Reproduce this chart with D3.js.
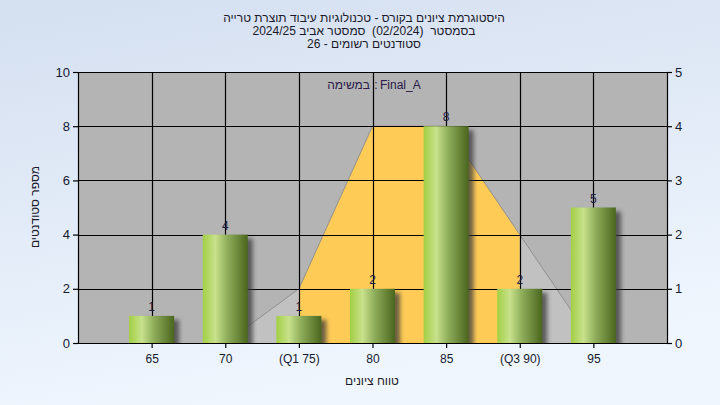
<!DOCTYPE html>
<html>
<head>
<meta charset="utf-8">
<script src="https://d3js.org/d3.v7.min.js"></script>
<style>
  body { margin: 0; }
  svg { display: block; font-family: "Liberation Sans", Arial, "DejaVu Sans", sans-serif; }
</style>
</head>
<body>
<div id="chart"></div>
<script>
// grade bins and counts
var grades = [65, 70, 75, 80, 85, 90, 95];
var tickLabels = ["65", "70", "(Q1 75)", "80", "85", "(Q3 90)", "95"];
var counts = [1, 4, 1, 2, 8, 2, 5];
// distribution curve, read on the right axis (0-5)
var curveX = [70, 75, 80, 85, 90, 95];
var curveY = [0, 1, 4, 4, 2, 0];
var q1 = 75, q3 = 90;
var leftTicks = [0, 2, 4, 6, 8, 10];
var rightTicks = [0, 1, 2, 3, 4, 5];
var titleLines = [
  "היסטוגרמת ציונים בקורס - טכנולוגיות עיבוד תוצרת טרייה",
  "בסמסטר  (02/2024)  סמסטר אביב 2024/25",
  "סטודנטים רשומים - 26"
];

var width = 720, height = 405;
var margin = {top: 72, right: 53, bottom: 62, left: 78};

var svg = d3.select("#chart").append("svg")
    .attr("width", width)
    .attr("height", height);

var defs = svg.append("defs");

var bg = defs.append("linearGradient").attr("id", "bg")
    .attr("x1", 0).attr("y1", 0).attr("x2", 0.3).attr("y2", 1);
bg.append("stop").attr("offset", "0%").attr("stop-color", "#d4dff0");
bg.append("stop").attr("offset", "100%").attr("stop-color", "#eff6fe");

var bar = defs.append("linearGradient").attr("id", "bar")
    .attr("x1", 0).attr("y1", 0).attr("x2", 1).attr("y2", 0);
bar.append("stop").attr("offset", "0%").attr("stop-color", "#a2cf44");
bar.append("stop").attr("offset", "28%").attr("stop-color", "#c8e18c");
bar.append("stop").attr("offset", "55%").attr("stop-color", "#8ead5a");
bar.append("stop").attr("offset", "100%").attr("stop-color", "#4a661e");

var blur = defs.append("filter").attr("id", "shadow")
    .attr("x", "-20%").attr("y", "-20%").attr("width", "150%").attr("height", "150%");
blur.append("feGaussianBlur").attr("stdDeviation", 2);

var clip = defs.append("clipPath").attr("id", "plotclip");

svg.append("rect").attr("width", width).attr("height", height).attr("fill", "url(#bg)");

var x = d3.scaleLinear().domain([60, 100]).range([margin.left, width - margin.right]);
var y = d3.scaleLinear().domain([0, 10]).range([height - margin.bottom, margin.top]);
var y2 = d3.scaleLinear().domain([0, 5]).range([height - margin.bottom, margin.top]);

clip.append("rect")
    .attr("x", x(60)).attr("y", y(10))
    .attr("width", x(100) - x(60)).attr("height", y(0) - y(10));

// plot background
svg.append("rect")
    .attr("x", x(60)).attr("y", y(10))
    .attr("width", x(100) - x(60)).attr("height", y(0) - y(10))
    .attr("fill", "#b4b4b4");

var plot = svg.append("g").attr("clip-path", "url(#plotclip)");

var curve = curveX.map(function(d, i) { return [d, curveY[i]]; });

var area = d3.area()
    .x(function(d) { return x(d[0]); })
    .y0(y2(0))
    .y1(function(d) { return y2(d[1]); });

plot.append("path")
    .datum(curve)
    .attr("d", area)
    .attr("fill", "#c1c1c1");

// inter-quartile part
var iqr = defs.append("clipPath").attr("id", "iqr");
iqr.append("rect")
    .attr("x", x(q1)).attr("y", y(10))
    .attr("width", x(q3) - x(q1)).attr("height", y(0) - y(10));

plot.append("path")
    .datum(curve)
    .attr("d", area)
    .attr("clip-path", "url(#iqr)")
    .attr("fill", "#fecb57");

plot.append("path")
    .datum(curve)
    .attr("d", d3.line().x(function(d) { return x(d[0]); }).y(function(d) { return y2(d[1]); }))
    .attr("fill", "none")
    .attr("stroke", "#8a8a8a")
    .attr("stroke-width", 0.9);

// grid lines
plot.selectAll(".hgrid").data(leftTicks.slice(1)).enter().append("line")
    .attr("x1", x(60)).attr("x2", x(100))
    .attr("y1", function(d) { return Math.round(y(d)) + 0.5; })
    .attr("y2", function(d) { return Math.round(y(d)) + 0.5; })
    .attr("stroke", "#000").attr("stroke-width", 1.2);

plot.selectAll(".vgrid").data(grades).enter().append("line")
    .attr("x1", function(d) { return Math.round(x(d)) + 0.5; })
    .attr("x2", function(d) { return Math.round(x(d)) + 0.5; })
    .attr("y1", y(10)).attr("y2", y(0))
    .attr("stroke", "#000").attr("stroke-width", 1.2);

// bars
var bw = 45;
plot.selectAll(".shadow").data(counts).enter().append("rect")
    .attr("x", function(d, i) { return x(grades[i]) - bw / 2 + 5; })
    .attr("y", function(d) { return y(d) + 4; })
    .attr("width", bw)
    .attr("height", function(d) { return y(0) - y(d); })
    .attr("fill", "#3a3a3a")
    .attr("opacity", 0.75)
    .attr("filter", "url(#shadow)");

plot.selectAll(".bar").data(counts).enter().append("rect")
    .attr("x", function(d, i) { return x(grades[i]) - bw / 2; })
    .attr("y", function(d) { return y(d); })
    .attr("width", bw)
    .attr("height", function(d) { return y(0) - y(d); })
    .attr("fill", "url(#bar)");

plot.selectAll(".val").data(counts).enter().append("text")
    .attr("x", function(d, i) { return x(grades[i]); })
    .attr("y", function(d) { return y(d) - 5; })
    .attr("text-anchor", "middle")
    .attr("font-size", 12)
    .attr("fill", "#1c2040")
    .text(function(d) { return d; });

// axes
var left = svg.append("g")
    .attr("transform", "translate(" + (x(60)) + ",0)")
    .call(d3.axisLeft(y).tickValues(leftTicks).tickSize(5).tickPadding(3)
      .tickFormat(d3.format("d")));
var right = svg.append("g")
    .attr("transform", "translate(" + (x(100)) + ",0)")
    .call(d3.axisRight(y2).tickValues(rightTicks).tickSize(5).tickPadding(3)
      .tickFormat(d3.format("d")));
var bottom = svg.append("g")
    .attr("transform", "translate(0," + y(0) + ")")
    .call(d3.axisBottom(x).tickValues(grades).tickSize(5).tickPadding(6)
      .tickFormat(function(d, i) { return tickLabels[i]; }));

[left, right, bottom].forEach(function(g) {
  g.select(".domain").attr("stroke", "#000").attr("stroke-width", 1.2);
  g.selectAll(".tick line").attr("stroke", "#000").attr("stroke-width", 1.2);
  g.selectAll("text").attr("font-size", 12).attr("fill", "#151a30")
    .attr("font-family", "\"Liberation Sans\", Arial, sans-serif");
});
left.selectAll("text").attr("font-size", 13);
right.selectAll("text").attr("font-size", 13);
bottom.select(".domain").attr("d", "M" + x(60) + ",0.5H" + x(100));

// titles
svg.selectAll(".title").data(titleLines).enter().append("text")
    .attr("x", 364)
    .attr("y", function(d, i) { return 22 + i * 13; })
    .attr("text-anchor", "middle")
    .attr("direction", "rtl")
    .style("white-space", "pre")
    .attr("font-size", 12)
    .attr("fill", "#1a1a2a")
    .text(function(d) { return d; });

// legend: hebrew word on the left, colon, task name on the right
var legendParts = [
  {text: "במשימה", x: 370, anchor: "end"},
  {text: ":", x: 376, anchor: "middle"},
  {text: "Final_A", x: 380, anchor: "start"}
];
svg.selectAll(".legend").data(legendParts).enter().append("text")
    .attr("x", function(d) { return d.x; })
    .attr("y", 89)
    .attr("text-anchor", function(d) { return d.anchor; })
    .attr("font-size", 12)
    .attr("fill", "#2a1a48")
    .text(function(d) { return d.text; });

svg.append("text")
    .attr("x", 372).attr("y", 385)
    .attr("text-anchor", "middle")
    .attr("direction", "rtl")
    .attr("font-size", 12)
    .attr("fill", "#1a1a2a")
    .text("טווח ציונים");

svg.append("text")
    .attr("transform", "translate(39,207) rotate(-90)")
    .attr("text-anchor", "middle")
    .attr("direction", "rtl")
    .attr("font-size", 12)
    .attr("fill", "#1a1a2a")
    .text("מספר סטודנטים");
</script>
</body>
</html>
